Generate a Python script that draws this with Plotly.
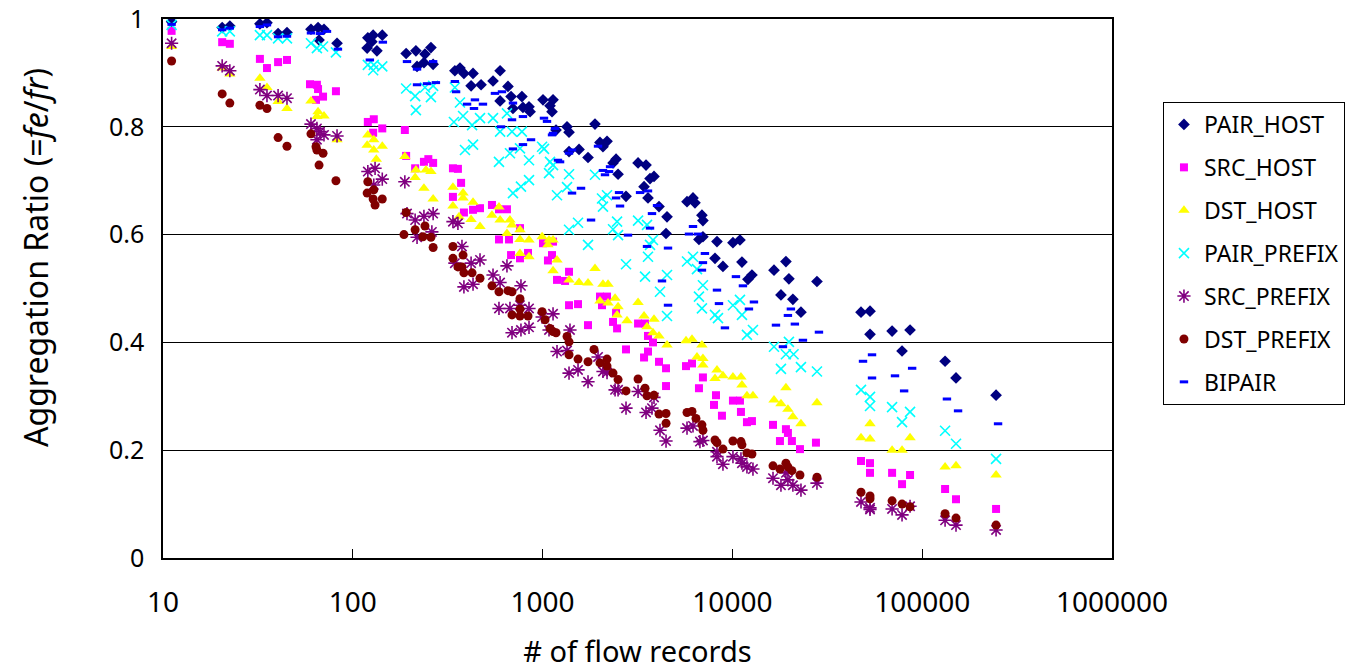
import plotly.graph_objects as go

# ---------------- data ----------------
series_names = ["PAIR_HOST", "SRC_HOST", "DST_HOST", "PAIR_PREFIX", "SRC_PREFIX", "DST_PREFIX", "BIPAIR"]

x_ticks = [10, 100, 1000, 10000, 100000, 1000000]
x_tick_labels = ["10", "100", "1000", "10000", "100000", "1000000"]
y_ticks = [0, 0.2, 0.4, 0.6, 0.8, 1]
y_tick_labels = ["0", "0.2", "0.4", "0.6", "0.8", "1"]

ph_x = [11.1, 20.5, 22.5, 32.4, 35.3, 40.4, 45,
        60.2, 65.6, 70.5, 66.4, 82.6,
        120, 128, 143, 119, 134, 126,
        191, 215, 240, 258, 218, 237, 265,
        345, 367, 385, 430, 420, 474, 548, 597, 597, 657, 682, 778, 698, 788, 848, 859, 1005, 1135, 1094, 1121, 1177,
        1378, 1345, 1888, 2006, 2185, 2080, 1378, 1556, 1735, 2438, 2350, 2498, 3184, 3507, 3681, 3863, 3424, 3592, 2751,
        4105, 4524, 4470, 5766, 6200, 6351, 6910, 6994, 6665, 6994, 8294, 8096,
        10067, 10960, 11228, 8917, 12677, 12075, 16564, 19145, 19850, 18021, 20830, 22973, 27895,
        47600, 53100, 53100, 69400, 78300, 86300, 132000, 150700, 245000]
ph_y = [0.995, 0.984, 0.987, 0.991, 0.993, 0.973, 0.975,
        0.981, 0.984, 0.981, 0.961, 0.955,
        0.965, 0.970, 0.970, 0.946, 0.941, 0.958,
        0.936, 0.941, 0.935, 0.947, 0.912, 0.919, 0.916,
        0.904, 0.909, 0.899, 0.899, 0.876, 0.878, 0.885, 0.904, 0.848, 0.875, 0.856, 0.856, 0.834, 0.836, 0.837, 0.828, 0.850, 0.850, 0.839, 0.828, 0.794,
        0.790, 0.800, 0.805, 0.771, 0.773, 0.763, 0.754, 0.758, 0.743, 0.740, 0.733, 0.712, 0.733, 0.729, 0.704, 0.708, 0.689, 0.668, 0.671,
        0.652, 0.633, 0.602, 0.661, 0.668, 0.659, 0.636, 0.626, 0.591, 0.596, 0.587, 0.556,
        0.585, 0.590, 0.549, 0.541, 0.525, 0.517, 0.534, 0.550, 0.518, 0.488, 0.480, 0.456, 0.513,
        0.456, 0.458, 0.415, 0.421, 0.384, 0.423, 0.365, 0.334, 0.302]

sh_x = [11.1, 20.5, 22.5, 32.4, 35.3, 40.4, 45,
        59.5, 64.7, 65.6, 69.7, 81.5, 64,
        120, 129, 143, 128, 188,
        191, 213, 237, 265, 250,
        337, 358, 372, 337, 385, 430, 468, 541, 589, 649, 760, 589, 665, 1005, 1135,
        682, 760, 838, 1067, 1121, 1191,
        1313, 1378, 1378, 1537, 1735, 2006, 2185, 2056, 2438, 2350, 2468, 2751, 3184, 3465, 3592, 3815, 3592, 3424,
        4105, 4470, 4470, 5697, 6125, 6994, 6665, 8195, 7999,
        8810, 10067, 10960, 11093, 11930, 12677, 16365, 17805, 19145, 19612, 20581, 22698, 27560,
        47600, 53100, 53100, 69400, 78300, 86300, 132000, 150700, 245000]
sh_y = [0.978, 0.957, 0.954, 0.926, 0.909, 0.920, 0.924,
        0.879, 0.878, 0.870, 0.856, 0.866, 0.850,
        0.809, 0.814, 0.797, 0.789, 0.794,
        0.746, 0.723, 0.735, 0.733, 0.740,
        0.723, 0.722, 0.696, 0.670, 0.641, 0.646, 0.649, 0.655, 0.647, 0.647, 0.612, 0.591, 0.591, 0.584, 0.587,
        0.562, 0.556, 0.566, 0.552, 0.562, 0.516,
        0.514, 0.531, 0.469, 0.471, 0.432, 0.485, 0.485, 0.469, 0.455, 0.438, 0.426, 0.387, 0.435, 0.435, 0.412, 0.400, 0.383, 0.372,
        0.364, 0.352, 0.319, 0.356, 0.361, 0.335, 0.315, 0.302, 0.284,
        0.264, 0.292, 0.292, 0.271, 0.252, 0.254, 0.247, 0.217, 0.239, 0.232, 0.217, 0.202, 0.214,
        0.180, 0.176, 0.158, 0.158, 0.137, 0.154, 0.128, 0.109, 0.091]

dh_x = [11.1, 20.5, 22.5, 32.4, 35.3, 40.4, 45,
        60.2, 65.6, 64.7, 70.5, 82.6,
        120, 119, 129, 143, 129, 133, 188,
        215, 213, 243, 258, 237, 265,
        337, 381, 381, 430, 337, 363, 420, 468, 541, 589, 597, 673, 690, 649, 760, 760, 848, 994, 1081, 1135,
        760, 848, 1067, 1191, 1135,
        1378, 1556, 1735, 1888, 2080, 2212, 2006, 2212, 2409, 2498, 2468, 2784, 3184, 3424, 3549, 3863, 3815, 4105,
        4524, 5697, 6125, 6910, 6506, 6994, 6994, 8294, 8096,
        8917, 10067, 11093, 11228, 11930, 12831, 16564, 18021, 19145, 19612, 20830, 22973, 27895,
        47600, 53100, 53100, 69400, 78300, 86300, 132000, 150700, 245000]
dh_y = [0.949, 0.909, 0.898, 0.890, 0.873, 0.847, 0.834,
        0.848, 0.828, 0.819, 0.820, 0.776,
        0.785, 0.766, 0.776, 0.764, 0.757, 0.740, 0.745,
        0.720, 0.706, 0.720, 0.717, 0.686, 0.666,
        0.688, 0.677, 0.668, 0.660, 0.653, 0.633, 0.628, 0.615, 0.636, 0.651, 0.627, 0.627, 0.618, 0.602, 0.609, 0.591, 0.590, 0.596, 0.590, 0.590,
        0.565, 0.559, 0.581, 0.553, 0.533,
        0.516, 0.511, 0.510, 0.537, 0.508, 0.508, 0.477, 0.473, 0.482, 0.466, 0.451, 0.440, 0.474, 0.449, 0.429, 0.443, 0.418, 0.412,
        0.395, 0.403, 0.406, 0.395, 0.373, 0.370, 0.358, 0.349, 0.333,
        0.338, 0.336, 0.336, 0.321, 0.301, 0.301, 0.293, 0.286, 0.316, 0.276, 0.262, 0.249, 0.288,
        0.223, 0.221, 0.249, 0.200, 0.200, 0.223, 0.169, 0.171, 0.154]

pp_x = [11.1, 20.5, 22.5, 32.4, 35.3, 40.4, 45,
        60.2, 64.7, 69.7, 81.5,
        120, 128, 143, 129,
        191, 213, 240, 265, 258, 215,
        345, 367, 341, 381, 425, 468, 548, 649, 597, 690, 778, 390, 430, 589, 673, 760, 848, 994, 1017, 1094, 1135, 1081, 698, 769, 848, 1191,
        1378, 1888, 1345, 2056, 2185, 2080, 1537, 1378, 2468, 2350, 2498, 3184, 3549, 3815, 3681, 1735, 2751, 3592, 3465, 4524, 5766, 6200, 6506,
        4155, 4524, 6994, 6665, 6910, 8096, 10067, 10960, 11228,
        8395, 12831, 11930, 16564, 19850, 19145, 21000, 18021, 22973, 27895,
        47600, 53100, 53100, 69400, 86300, 78300, 132000, 150700, 245000]
pp_y = [0.989, 0.977, 0.977, 0.970, 0.970, 0.964, 0.964,
        0.955, 0.946, 0.949, 0.938,
        0.915, 0.905, 0.912, 0.915,
        0.871, 0.857, 0.873, 0.876, 0.855, 0.831,
        0.873, 0.845, 0.809, 0.820, 0.803, 0.816, 0.816, 0.825, 0.791, 0.791, 0.791, 0.757, 0.767, 0.735, 0.751, 0.760, 0.738, 0.763, 0.759, 0.735, 0.729, 0.714, 0.677, 0.689, 0.701, 0.673,
        0.712, 0.711, 0.688, 0.667, 0.673, 0.652, 0.622, 0.609, 0.624, 0.610, 0.599, 0.626, 0.618, 0.590, 0.581, 0.581, 0.545, 0.559, 0.522, 0.525, 0.550, 0.559, 0.536,
        0.494, 0.449, 0.506, 0.485, 0.463, 0.451, 0.469, 0.479, 0.451,
        0.445, 0.423, 0.414, 0.392, 0.401, 0.378, 0.378, 0.351, 0.354, 0.346,
        0.312, 0.299, 0.282, 0.280, 0.271, 0.252, 0.236, 0.212, 0.184]

sp_x = [11.1, 20.5, 22.5, 32.4, 35.3, 40.4, 45,
        60.2, 64.7, 67.2, 70.5, 82.6, 64.7,
        120, 131, 143, 129, 188,
        213, 237, 265, 218, 261, 193,
        337, 358, 376, 345, 420, 468, 385, 430, 548, 597, 649, 769, 589, 673, 760, 848, 690, 769, 848, 994, 1135, 1081, 1191,
        1345, 1378, 1537, 1735, 1394, 1959, 2080, 2185, 2409, 2498, 2751, 3184, 3507, 3770, 3863, 4155, 4470, 5766, 6200, 6746, 6994, 8294,
        8294, 8917, 10067, 11093, 11228, 11930, 12831, 16365, 18021, 19145, 19612, 20830, 22973, 27895,
        47600, 53100, 53100, 69400, 78300, 86300, 132000, 150700, 245000]
sp_y = [0.955, 0.913, 0.904, 0.869, 0.858, 0.858, 0.853,
        0.805, 0.797, 0.791, 0.785, 0.783, 0.776,
        0.717, 0.723, 0.703, 0.692, 0.698,
        0.627, 0.634, 0.639, 0.595, 0.605, 0.639,
        0.624, 0.621, 0.578, 0.547, 0.547, 0.553, 0.503, 0.508, 0.525, 0.511, 0.542, 0.505, 0.463, 0.463, 0.469, 0.463, 0.418, 0.423, 0.428, 0.447, 0.453, 0.423, 0.383,
        0.385, 0.343, 0.349, 0.327, 0.423, 0.373, 0.346, 0.344, 0.312, 0.312, 0.278, 0.309, 0.270, 0.278, 0.298, 0.237, 0.217, 0.241, 0.245, 0.216, 0.218, 0.197,
        0.188, 0.174, 0.188, 0.184, 0.176, 0.169, 0.165, 0.148, 0.135, 0.158, 0.145, 0.135, 0.126, 0.139,
        0.104, 0.093, 0.090, 0.091, 0.080, 0.096, 0.070, 0.061, 0.052]

dp_x = [11.1, 20.5, 22.5, 32.4, 35.3, 40.4, 45,
        60.2, 64, 64.7, 69.7, 66.4, 81.5,
        120, 119, 129, 128, 143, 131,
        191, 213, 240, 186, 234, 258, 265,
        337, 337, 381, 358, 376, 385, 425, 468, 541, 589, 657, 690, 760, 760, 690, 760, 838, 994, 1030, 1094, 1177,
        1135, 1345, 1378, 1378, 1537, 1735, 1866, 2006, 2185, 2185, 2350, 2498, 2751, 3184, 3465, 3549, 3863, 4105,
        4470, 4470, 5766, 6125, 6428, 6910, 6994, 8096,
        8294, 8917, 10067, 11093, 11228, 11930, 12677, 16365, 17805, 19145, 19612, 20581, 22698, 27895,
        47600, 53100, 53100, 69400, 78300, 86300, 132000, 150700, 245000]
dp_y = [0.922, 0.861, 0.844, 0.840, 0.834, 0.780, 0.764,
        0.787, 0.763, 0.757, 0.751, 0.729, 0.700,
        0.698, 0.677, 0.683, 0.666, 0.666, 0.655,
        0.641, 0.609, 0.616, 0.600, 0.596, 0.595, 0.576,
        0.578, 0.556, 0.562, 0.540, 0.540, 0.529, 0.529, 0.519, 0.505, 0.494, 0.496, 0.494, 0.481, 0.462, 0.451, 0.449, 0.449, 0.457, 0.442, 0.426, 0.418,
        0.420, 0.411, 0.401, 0.377, 0.369, 0.364, 0.387, 0.362, 0.369, 0.356, 0.343, 0.331, 0.310, 0.332, 0.315, 0.301, 0.302, 0.267,
        0.268, 0.250, 0.270, 0.272, 0.259, 0.247, 0.237, 0.219,
        0.214, 0.202, 0.217, 0.216, 0.210, 0.195, 0.193, 0.171, 0.165, 0.176, 0.169, 0.162, 0.154, 0.150,
        0.122, 0.115, 0.110, 0.106, 0.100, 0.095, 0.082, 0.074, 0.061]

bi_x = [11.1, 20.5, 22.5, 32.4, 35.3, 40.4, 45,
        60.2, 67.2, 73.1, 83.5,
        123, 144,
        193, 218, 246, 274, 218, 265,
        345, 350, 400, 435, 440, 485, 561, 611, 698, 788, 690, 604, 788, 869, 698, 1017, 1055, 1121, 1205,
        1162, 1135, 1378, 1429, 1236, 1594, 1429, 1959, 2080, 2240, 2132, 2267, 2528, 2438, 2558, 1800,
        3262, 3592, 4008, 3770, 3681, 2818, 3549, 4579, 6200, 5906, 6585, 7165, 6994, 6910, 4257, 4579,
        8294, 8497, 9134, 10440, 11364, 12221, 12986, 16968, 20334, 19612, 21337, 18460, 23533, 28575,
        48770, 54400, 54400, 71900, 80300, 88500, 135000, 154500, 251000]
bi_y = [0.990, 0.980, 0.983, 0.986, 0.989, 0.967, 0.968,
        0.974, 0.973, 0.977, 0.944,
        0.924, 0.957,
        0.921, 0.907, 0.880, 0.882, 0.878, 0.921,
        0.884, 0.865, 0.842, 0.834, 0.850, 0.842, 0.862, 0.865, 0.844, 0.819, 0.813, 0.800, 0.767, 0.776, 0.759, 0.816, 0.810, 0.785, 0.738,
        0.797, 0.788, 0.751, 0.757, 0.735, 0.686, 0.677, 0.764, 0.719, 0.717, 0.711, 0.726, 0.678, 0.668, 0.653, 0.627,
        0.678, 0.681, 0.654, 0.639, 0.612, 0.599, 0.578, 0.575, 0.615, 0.601, 0.601, 0.565, 0.548, 0.534, 0.514, 0.469,
        0.497, 0.472, 0.427, 0.522, 0.505, 0.462, 0.475, 0.432, 0.462, 0.450, 0.434, 0.392, 0.404, 0.419,
        0.365, 0.377, 0.334, 0.338, 0.310, 0.352, 0.295, 0.273, 0.249]

series_x = [ph_x, sh_x, dh_x, pp_x, sp_x, dp_x, bi_x]
series_y = [ph_y, sh_y, dh_y, pp_y, sp_y, dp_y, bi_y]

# ---------------- styles ----------------
colors = ["#000080", "#FF00FF", "#FFFF00", "#00FFFF", "#800080", "#800000", "#0000FF"]
symbols = ["diamond", "square", "triangle-up", "x-thin-open", "asterisk-open", "circle", "line-ew-open"]
sizes = [9, 8, 10, 10, 11, 9, 6]
line_w = [0, 0, 0, 1.6, 1.6, 0, 3]

FONT = "Noto Sans"

fig = go.Figure()
for i, name in enumerate(series_names):
    xs, ys = series_x[i], series_y[i]
    assert len(xs) == len(ys), (name, len(xs), len(ys))
    fig.add_trace(go.Scatter(
        x=xs, y=ys, mode="markers", name=name, legendgroup=name,
        marker=dict(symbol=symbols[i], size=sizes[i], color=colors[i],
                    line=dict(width=line_w[i], color=colors[i])),
    ))

fig.update_layout(
    width=1346, height=670,
    margin=dict(l=163, r=234, t=19, b=112, autoexpand=False),
    paper_bgcolor="white", plot_bgcolor="white",
    font=dict(family=FONT, color="black"),
    showlegend=True,
    legend=dict(
        x=1.0537, y=0.846, xanchor="left", yanchor="top",
        bordercolor="black", borderwidth=1, bgcolor="white",
        font=dict(family=FONT, size=23, color="black"),
        tracegroupgap=10, itemwidth=30,
    ),
    xaxis=dict(
        type="log", range=[1, 6], automargin=False,
        tickvals=x_ticks, ticktext=x_tick_labels,
        ticks="inside", ticklen=9, tickcolor="black", tickwidth=1,
        showline=True, linecolor="black", linewidth=1.5, mirror=True,
        showgrid=False, zeroline=False,
        tickfont=dict(family=FONT, size=28, color="black"),
        ticklabelstandoff=19,
        title=dict(text="# of flow records", font=dict(family=FONT, size=29, color="black"), standoff=22),
    ),
    yaxis=dict(
        range=[0, 1], automargin=False,
        tickvals=y_ticks, ticktext=y_tick_labels,
        ticks="inside", ticklen=8, tickcolor="black", tickwidth=1,
        showline=True, linecolor="black", linewidth=1.5, mirror=True,
        showgrid=True, gridcolor="black", gridwidth=1, zeroline=False,
        tickfont=dict(family=FONT, size=25, color="black"),
        ticklabelstandoff=12, ticklabeloverflow="allow",
    ),
    annotations=[dict(
        text="Aggregation Ratio (=<i>fe</i>/<i>fr</i>)",
        xref="paper", yref="paper", x=-0.1349, y=0.5584,
        xanchor="center", yanchor="middle", textangle=-90, showarrow=False,
        font=dict(family=FONT, size=32, color="black"),
    )],
)

fig.write_html(
    "out.html",
    config={"displayModeBar": False},
    post_script="document.body.style.margin='0px';document.body.style.overflow='hidden';",
)
